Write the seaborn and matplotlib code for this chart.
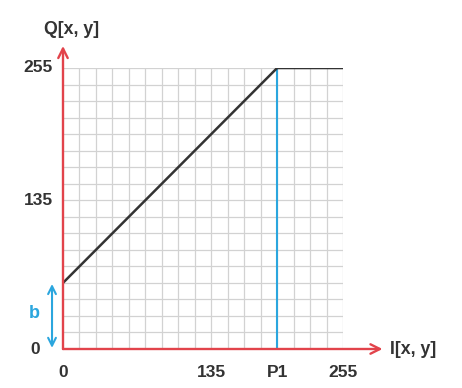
import matplotlib
matplotlib.use("Agg")
import matplotlib.pyplot as plt
import seaborn as sns
import numpy as np
import pandas as pd

# transfer function: Q = I + b, clipped at 255
x_points = [0, 195, 255]
q_points = [60, 255, 255]
b_value = 60
p1_value = 195
x_tick_vals = [0, 135, 195, 255]
x_tick_text = ["0", "135", "P1", "255"]
y_tick_vals = [0, 135, 255]
y_tick_text = ["0", "135", "255"]

sns.set_style("white")
plt.rcParams["font.family"] = ["Liberation Sans", "DejaVu Sans"]

red = "#e2434b"
blue = "#2ba6de"
dark = "#333333"

fig = plt.figure(figsize=(4.62, 3.88), dpi=100)
ax = fig.add_axes([63 / 462, 39 / 388, 280 / 462, 281 / 388])
ax.set_xlim(0, 255)
ax.set_ylim(0, 255)

# grid every 15 units
for v in np.arange(15, 256, 15):
    ax.axvline(v, color="#d2d2d2", lw=0.9, zorder=0)
    ax.axhline(v, color="#d2d2d2", lw=0.9, zorder=0)

df = pd.DataFrame({"I": x_points, "Q": q_points})
sns.lineplot(data=df, x="I", y="Q", color=dark, lw=1.8, ax=ax, zorder=3)

ax.plot([p1_value, p1_value], [0, 255], color=blue, lw=1.5, zorder=2)

for s in ax.spines.values():
    s.set_visible(False)
ax.set_xlabel("")
ax.set_ylabel("")
ax.set_xticks([])
ax.set_yticks([])

# axes arrows
arrow_kw = dict(arrowstyle="->", color=red, lw=1.7, mutation_scale=17, shrinkA=0, shrinkB=0)
ax.annotate("", xy=(291, 0), xytext=(0, 0), annotation_clip=False, arrowprops=arrow_kw, zorder=4)
ax.annotate("", xy=(0, 275), xytext=(0, 0), annotation_clip=False, arrowprops=arrow_kw, zorder=4)

# b arrow
ax.annotate("", xy=(-10, 1), xytext=(-10, b_value - 1), annotation_clip=False,
            arrowprops=dict(arrowstyle="<->", color=blue, lw=1.5, mutation_scale=14,
                            shrinkA=0, shrinkB=0))
ax.text(-26, 32, "b", color=blue, fontsize=13, fontweight="bold",
        ha="center", va="center", clip_on=False)

# tick labels
for v, t in zip(x_tick_vals, x_tick_text):
    ax.text(v, -21, t, color=dark, fontsize=12.5, fontweight="bold",
            ha="center", va="center", clip_on=False)
for v, t in zip(y_tick_vals, y_tick_text):
    xpos = -21 if v == 0 else -9
    ax.text(xpos, v, t, color=dark, fontsize=12.5, fontweight="bold",
            ha="right", va="center", clip_on=False)

ax.text(8, 290, "Q[x, y]", color=dark, fontsize=12.8, fontweight="bold",
        ha="center", va="center", clip_on=False)
ax.text(298, 0, "I[x, y]", color=dark, fontsize=12.8, fontweight="bold",
        ha="left", va="center", clip_on=False)

fig.savefig("out.png", dpi=100)
